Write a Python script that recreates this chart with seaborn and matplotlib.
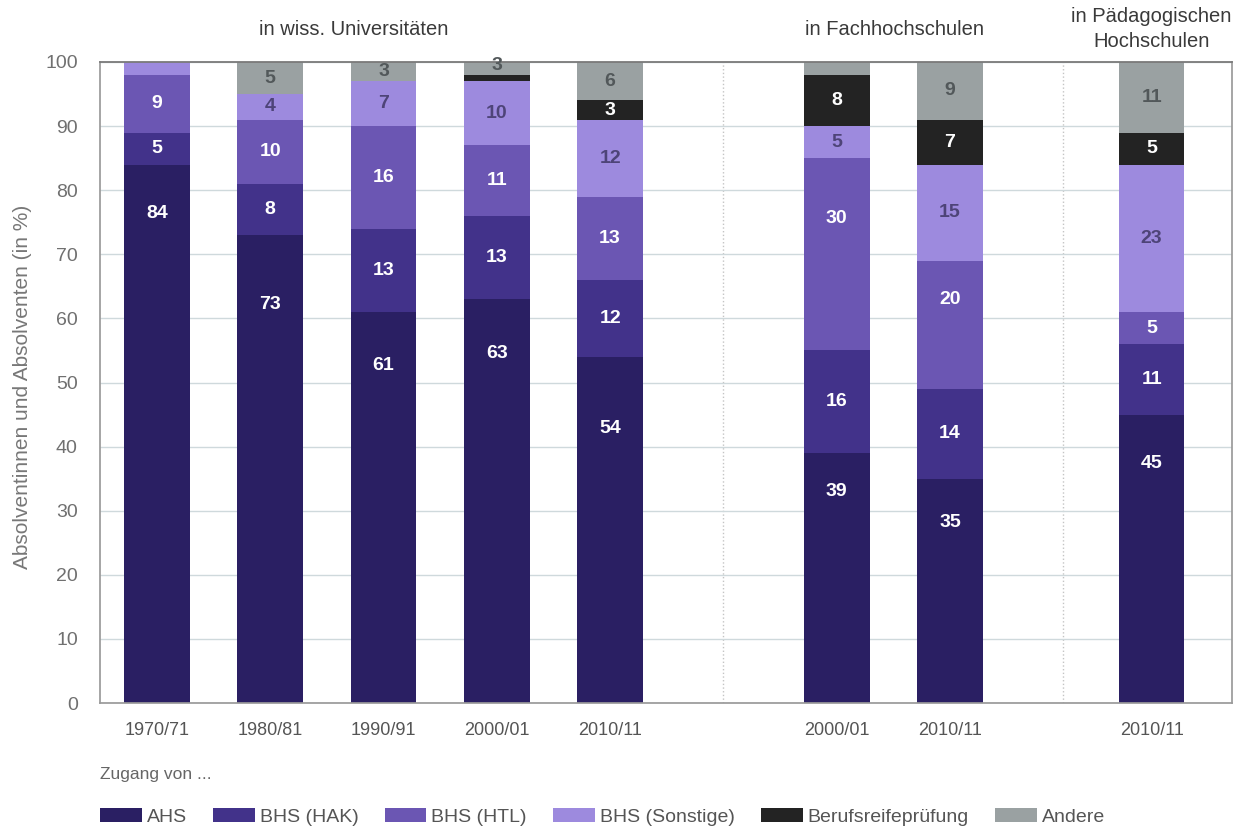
import matplotlib
matplotlib.use("Agg")
import matplotlib.pyplot as plt
from matplotlib.patches import Patch
import pandas as pd
import seaborn as sns

# ---- data -------------------------------------------------------------
years = ["1970/71", "1980/81", "1990/91", "2000/01", "2010/11",
         "2000/01", "2010/11", "2010/11"]
positions = [0, 1, 2, 3, 4, 6, 7, 8.78]

ahs = [84, 73, 61, 63, 54, 39, 35, 45]
bhs_hak = [5, 8, 13, 13, 12, 16, 14, 11]
bhs_htl = [9, 10, 16, 11, 13, 30, 20, 5]
bhs_sonstige = [2, 4, 7, 10, 12, 5, 15, 23]
berufsreife = [0, 0, 0, 1, 3, 8, 7, 5]
andere = [0, 5, 3, 3, 6, 2, 9, 11]

layer_names = ["AHS", "BHS (HAK)", "BHS (HTL)", "BHS (Sonstige)",
               "Berufsreifeprüfung", "Andere"]
layer_values = [ahs, bhs_hak, bhs_htl, bhs_sonstige, berufsreife, andere]
layer_colors = ["#2a1f63", "#42328a", "#6b56b3", "#9d8ade", "#232323", "#9aa1a2"]
label_colors = ["white", "white", "white", "#4e4478", "white", "#52585a"]

# label heights that sit off the segment centre (layer, bar index) -> y
label_y_override = {
    ("AHS", 0): 76.4, ("AHS", 1): 62.1, ("AHS", 2): 52.7, ("AHS", 3): 54.6,
    ("AHS", 4): 42.9, ("AHS", 5): 33.0, ("AHS", 6): 28.2, ("AHS", 7): 37.3,
    ("BHS (HTL)", 5): 75.6, ("BHS (HTL)", 6): 62.9,
}

group_titles = ["in wiss. Universitäten", "in Fachhochschulen",
                "in Pädagogischen\nHochschulen"]
group_centers = [1.74, 6.51, 8.78]
separators = [-0.503, 0.5, 1.5, 2.5, 3.5, 5.0, 6.5, 8.0]

# ---- long table with cumulative tops ----------------------------------
rows = []
for i in range(len(positions)):
    cum = 0
    for name, vals in zip(layer_names, layer_values):
        v = vals[i]
        rows.append({"idx": i, "pos": positions[i], "layer": name,
                     "bottom": cum, "value": v, "top": cum + v})
        cum += v
df = pd.DataFrame(rows)

# ---- figure -----------------------------------------------------------
sns.set_theme(style="white")
plt.rcParams["font.family"] = ["Liberation Sans", "DejaVu Sans"]

fig = plt.figure(figsize=(12.45, 8.31), dpi=100)
ax = fig.add_axes([0.0803, 0.154, 0.9093, 0.7714])

# stacked bars: draw cumulative totals from the top layer downwards
for name, color in reversed(list(zip(layer_names, layer_colors))):
    sub = df[df["layer"] == name]
    sns.barplot(data=sub, x="pos", y="top", native_scale=True, orient="x",
                color=color, saturation=1, width=0.58, errorbar=None,
                linewidth=0, ax=ax)

# value labels
for name, lc in zip(layer_names, label_colors):
    sub = df[df["layer"] == name]
    for _, r in sub.iterrows():
        if r["value"] >= 3:
            y = label_y_override.get((name, int(r["idx"])),
                                     r["bottom"] + r["value"] / 2)
            ax.text(r["pos"], y, f"{int(r['value'])}",
                    ha="center", va="center", fontsize=14, color=lc,
                    fontweight="bold")

ax.set_xlim(-0.503, 9.49)
ax.set_ylim(0, 100)
ax.set_yticks(range(0, 101, 10))
ax.set_xticks(positions, years)
ax.set_xticks(separators, minor=True)
ax.tick_params(axis="x", which="major", length=0, pad=14, labelsize=13,
               labelcolor="#555555")
ax.tick_params(axis="x", which="minor", length=26, width=1, color="#9a9a9a",
               direction="out")
ax.tick_params(axis="y", length=13, width=1, color="#9a9a9a", pad=3,
               labelsize=14, labelcolor="#707070", direction="out")
ax.set_xlabel("")
ax.set_ylabel("")

ax.yaxis.grid(True, color="#cfd9dc", linewidth=1)
ax.set_axisbelow(True)
for x in (5.0, 8.0):
    ax.axvline(x, color="#c4c4c4", linestyle=":", linewidth=1, zorder=0.5)

for side in ("left", "right", "bottom", "top"):
    ax.spines[side].set_visible(True)
ax.spines["top"].set_color("#7a7a7a")
ax.spines["top"].set_linewidth(1.3)
ax.spines["left"].set_color("#9a9a9a")
ax.spines["right"].set_color("#9a9a9a")
ax.spines["bottom"].set_color("#9a9a9a")

# group headings
for title, cx in zip(group_titles, group_centers):
    xf = fig.transFigure.inverted().transform(ax.transData.transform((cx, 0)))[0]
    fig.text(xf, 0.965, title, ha="center", va="center", fontsize=14.5,
             color="#3a3a3a", linespacing=1.45)

fig.text(0.018, 0.535, "Absolventinnen und Absolventen (in %)", rotation=90,
         ha="center", va="center", fontsize=15, color="#777777")

# legend
fig.text(0.0803, 0.0674, "Zugang von ...", ha="left", va="center",
         fontsize=12.5, color="#666666")
handles = [Patch(facecolor=c, edgecolor="none", label=n)
           for n, c in zip(layer_names, layer_colors)]
leg = fig.legend(handles=handles, loc="center left",
                 bbox_to_anchor=(0.0803, 0.0168), ncol=6, frameon=False,
                 fontsize=14, handlelength=2.15, handleheight=0.75,
                 handletextpad=0.25, columnspacing=1.35, borderpad=0,
                 borderaxespad=0)
for t in leg.get_texts():
    t.set_color("#555555")

fig.savefig("out.png", dpi=100)
